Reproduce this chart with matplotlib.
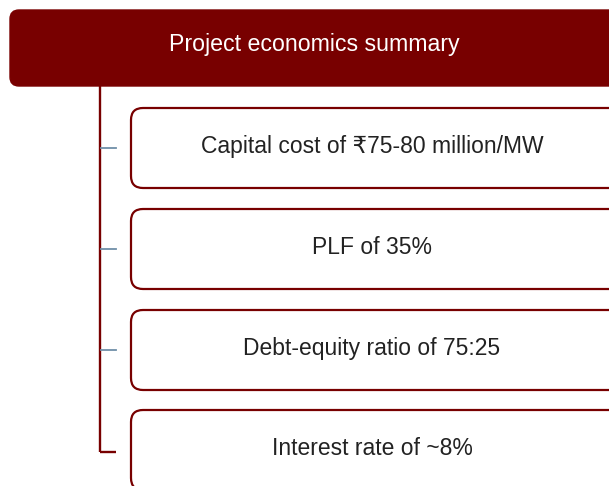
import matplotlib.pyplot as plt
from matplotlib.patches import FancyBboxPatch

plt.rcParams['font.family'] = ['Liberation Sans', 'DejaVu Sans']

title = "Project economics summary"
items = ["Capital cost of \u20b975-80 million/MW",
         "PLF of 35%",
         "Debt-equity ratio of 75:25",
         "Interest rate of ~8%"]
box_tops = [108, 209, 310, 410]
box_h = 80

dark_red = "#780000"
tick_col = "#6f8fa8"

fig = plt.figure(figsize=(6.09, 4.86), dpi=100)
ax = fig.add_axes([0, 0, 1, 1])
ax.set_xlim(0, 609)
ax.set_ylim(486, 0)
ax.axis("off")

# header
hdr = FancyBboxPatch((10, 10), 610, 76, boxstyle="round,pad=0,rounding_size=9",
                     fc=dark_red, ec=dark_red, lw=1)
ax.add_patch(hdr)
ax.text(314, 44, title, color="white", fontsize=16.7, ha="center", va="center")

# connector
ax.plot([100, 100], [86, 452], color=dark_red, lw=1.7, solid_capstyle="butt")
for i, (top, lab) in enumerate(zip(box_tops, items)):
    mid = top + box_h / 2
    if i == len(items) - 1:
        ax.plot([100, 116], [452, 452], color=dark_red, lw=1.7, solid_capstyle="butt")
    else:
        ax.plot([101, 116], [mid, mid], color=tick_col, lw=1.3)
    b = FancyBboxPatch((131, top), 500, box_h, boxstyle="round,pad=0,rounding_size=12",
                       fc="white", ec=dark_red, lw=1.6)
    ax.add_patch(b)
    ax.text(372, mid - 2, lab, color="#222222", fontsize=16.5, ha="center", va="center")

fig.savefig("out.png", dpi=100)
